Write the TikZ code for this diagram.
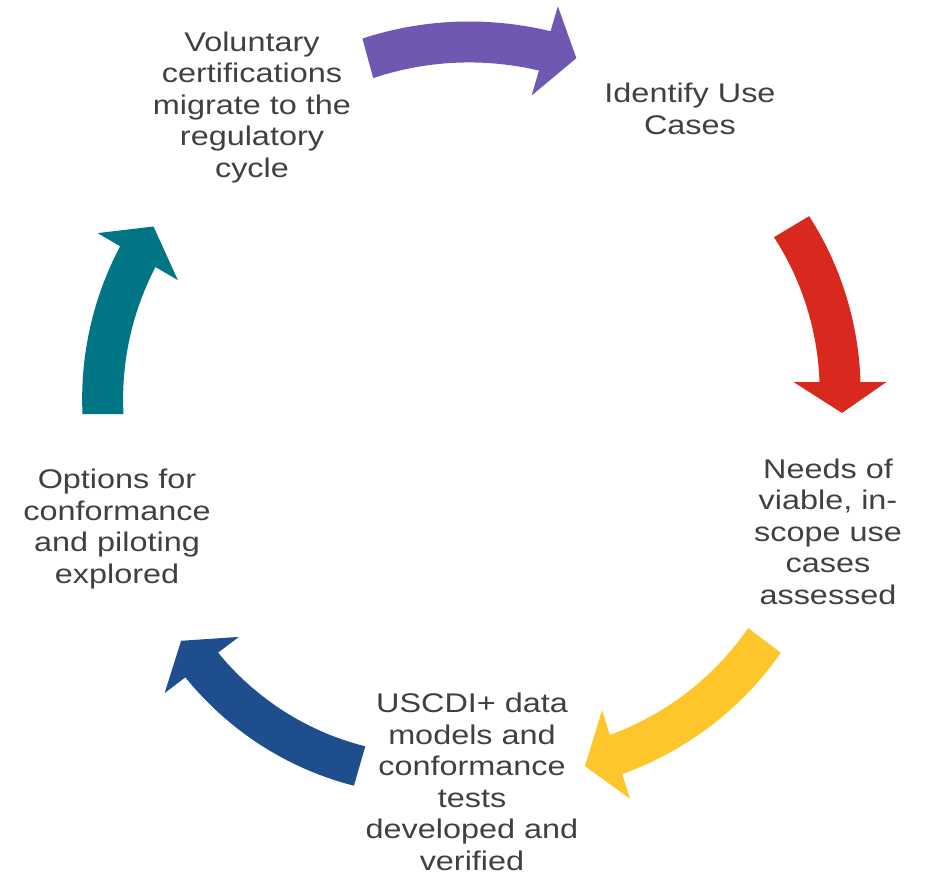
\documentclass[tikz,border=0pt]{standalone}
\usepackage{fontspec}
\setmainfont{Liberation Sans}[FakeStretch=1.2]
\usetikzlibrary{positioning}

\definecolor{txtgray}{HTML}{404040}
\definecolor{cycpurple}{HTML}{6F57B2}
\definecolor{cycred}{HTML}{D9291F}
\definecolor{cycyellow}{HTML}{FFC62C}
\definecolor{cycblue}{HTML}{1F4E8E}
\definecolor{cycteal}{HTML}{007585}

% #1 colour, #2 #3 centre, #4 tail angle, #5 head angle, #6 tip angle,
% #7 tail radius, #8 head radius
\newcommand{\cycarrow}[8]{%
  \fill[#1]
    plot[domain=#4:#5, samples=40]
      ({#2+(#7+(#8-#7)*(\x-(#4))/((#5)-(#4))+20.5)*cos(\x)},
       {#3+(#7+(#8-#7)*(\x-(#4))/((#5)-(#4))+20.5)*sin(\x)})
    -- ({#2+(#8+46.5)*cos(#5)}, {#3+(#8+46.5)*sin(#5)})
    -- ({#2+(#8+3.5)*cos(#6)}, {#3+(#8+3.5)*sin(#6)})
    -- ({#2+(#8-46.5)*cos(#5)}, {#3+(#8-46.5)*sin(#5)})
    -- plot[domain=#5:#4, samples=40]
      ({#2+(#7+(#8-#7)*(\x-(#4))/((#5)-(#4))-20.5)*cos(\x)},
       {#3+(#7+(#8-#7)*(\x-(#4))/((#5)-(#4))-20.5)*sin(\x)})
    -- cycle;}

% text of each stage, placed at the baseline of its last line
\tikzset{stage/.style={align=center, text=txtgray, inner sep=0pt, anchor=base,
    font=\fontsize{27}{31.5}\selectfont}}

\begin{document}
\begin{tikzpicture}[x=1pt, y=-1pt]
  \useasboundingbox (0,0) rectangle (925,884);

  \node[stage] (1) at (690,134) {Identify Use\\Cases};
  \node[stage] (2) at (828,604) {Needs of\\viable, in-\\scope use\\cases\\assessed};
  \node[stage] (3) at (472,870) {USCDI+ data\\models and\\conformance\\tests\\developed and\\verified};
  \node[stage] (4) at (117,583) {Options for\\conformance\\and piloting\\explored};
  \node[stage] (5) at (252,177) {Voluntary\\certifications\\migrate to the\\regulatory\\cycle};

  % arrows between the stages
  \cycarrow{cycpurple}{452}{366}{-105.3}{-73.6}{-68}{319}{328.5}
  \cycarrow{cycred}{532}{382}{-30.9}{0}{5.7}{302.5}{308}
  \cycarrow{cycyellow}{522}{457}{37.1}{72.45}{78.5}{304}{312}
  \cycarrow{cycblue}{441}{484}{106.1}{142.9}{148.9}{293.5}{300}
  \cycarrow{cycteal}{406}{414}{180}{210.4}{216.6}{303}{311}
\end{tikzpicture}
\end{document}
